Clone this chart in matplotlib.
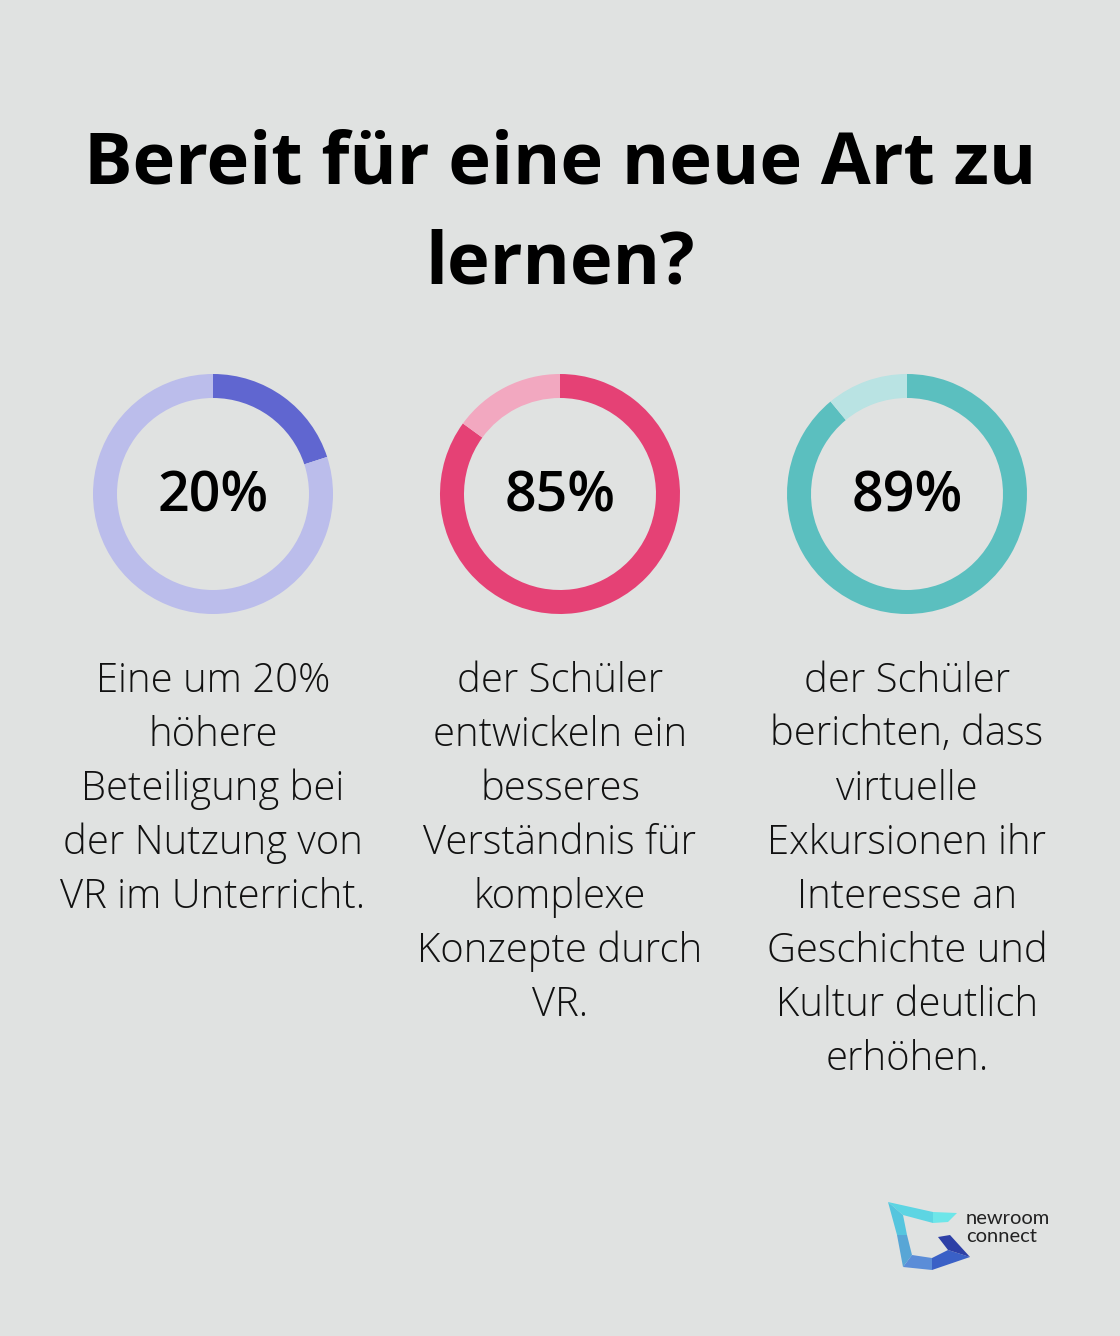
import matplotlib.pyplot as plt
from matplotlib.patches import Polygon

# data
values = [20, 85, 89]
labels = ['20%', '85%', '89%']
dark_colors = ['#6066D0', '#E54175', '#5BBFBF']
light_colors = ['#BBBDEB', '#F2A8C0', '#B9E3E3']
descriptions = [
    ['Eine um 20%', 'höhere', 'Beteiligung bei', 'der Nutzung von', 'VR im Unterricht.'],
    ['der Schüler', 'entwickeln ein', 'besseres', 'Verständnis für', 'komplexe',
     'Konzepte durch', 'VR.'],
    ['der Schüler', 'berichten, dass', 'virtuelle', 'Exkursionen ihr', 'Interesse an',
     'Geschichte und', 'Kultur deutlich', 'erhöhen.'],
]
title_lines = ['Bereit für eine neue Art zu', 'lernen?']

W, H = 1120, 1336
bg = '#E0E2E1'

fig = plt.figure(figsize=(W / 100, H / 100), dpi=100, facecolor=bg)
ax = fig.add_axes([0, 0, 1, 1])
ax.set_facecolor(bg)

col_x = [213, 560, 907]
cy = H - 494

for i, v in enumerate(values):
    ax.pie([v, 100 - v], colors=[dark_colors[i], light_colors[i]],
           center=(col_x[i], cy), radius=120, startangle=90,
           counterclock=False, wedgeprops=dict(width=24, linewidth=0))
    ax.text(col_x[i], cy - 4, labels[i], ha='center', va='center',
            fontsize=40, fontweight='semibold', family='Open Sans', color='#000000')
    for j, line in enumerate(descriptions[i]):
        ax.text(col_x[i], H - 681 - j * 54, line, ha='center', va='center',
                fontsize=28.8, fontweight='light', family='Open Sans', color='#111111')

# title
for k, line in enumerate(title_lines):
    ax.text(W / 2, H - 165 - k * 100, line, ha='center', va='center',
            fontsize=52, fontweight='bold', family='Open Sans', color='#000000')

# logo
def P(pts):
    return [(x, H - y) for x, y in pts]

logo = [
    (P([(888, 1202), (933, 1212), (933, 1223), (903, 1215)]), '#5DD5E3'),
    (P([(933, 1212), (957, 1213), (948, 1222), (933, 1223)]), '#6EE6E9'),
    (P([(888, 1202), (903, 1215), (907, 1235), (897, 1235)]), '#55C5DE'),
    (P([(897, 1235), (907, 1235), (912, 1255), (903, 1267)]), '#58A6D6'),
    (P([(903, 1267), (912, 1255), (932, 1258), (932, 1270)]), '#5B8DD8'),
    (P([(932, 1258), (948, 1250), (970, 1257), (932, 1270)]), '#3A60C6'),
    (P([(938, 1237), (950, 1235), (970, 1257), (948, 1250)]), '#2D3FA6'),
]
for pts, c in logo:
    ax.add_patch(Polygon(pts, closed=True, facecolor=c, edgecolor='none'))
ax.text(966, H - 1218, 'newroom', ha='left', va='center', fontsize=14.5,
        family='Lato', color='#222222')
ax.text(966, H - 1237, 'connect', ha='left', va='center', fontsize=14.5,
        family='Lato', color='#222222')

ax.set_xlim(0, W)
ax.set_ylim(0, H)
ax.set_aspect('auto')
ax.axis('off')

fig.savefig('out.png', dpi=100, facecolor=bg)
